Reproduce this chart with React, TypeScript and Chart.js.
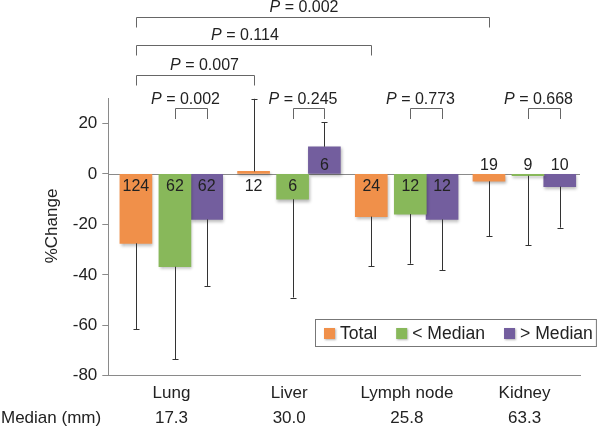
import React, { useEffect, useRef } from 'react';
import { Chart, registerables } from 'chart.js';
Chart.register(...registerables);

const categories = ['Lung', 'Liver', 'Lymph node', 'Kidney'];
const medians = ['17.3', '30.0', '25.8', '63.3'];
const seriesLabels = ['Total', '< Median', '> Median'];

const totalChange = [-27.5, 1, -16.9, -2.9];
const totalError = [-61.6, 29.8, -36.5, -24.7];
const totalN = [124, 12, 24, 19];

const belowChange = [-36.8, -10, -15.9, -0.7];
const belowError = [-73.5, -49, -35.6, -28.3];
const belowN = [62, 6, 12, 9];

const aboveChange = [-18, 10.8, -18, -5];
const aboveError = [-44.4, 20.5, -38.1, -21.3];
const aboveN = [62, 6, 12, 10];

const withinP = ['0.002', '0.245', '0.773', '0.668'];
const vsLungTarget = [1, 2, 3];
const vsLungP = ['0.007', '0.114', '0.002'];

const yTickMin = -80;
const yTickMax = 30;
const yStep = 20;

const colors = ['#F0904A', '#88B85A', '#735E9E'];
const errors = [totalError, belowError, aboveError];
const counts = [totalN, belowN, aboveN];
const changes = [totalChange, belowChange, aboveChange];

// layout (style only): x range of the category axis and per-series bar offsets, in category units
const X_MIN = -0.537;
const X_MAX = 3.471;
const SERIES_SHIFT = [-0.3025, 0.029, 0.299];
const BAR_W = 32;

const FONT = '"Liberation Sans", Arial, Helvetica, sans-serif';
const TEXT = '#222';
const AXIS = '#8a8a8a';

function drawP(ctx: CanvasRenderingContext2D, p: string, cx: number, cy: number) {
  ctx.font = `italic 16px ${FONT}`;
  const wP = ctx.measureText('P').width;
  ctx.font = `16px ${FONT}`;
  const rest = ' = ' + p;
  const wR = ctx.measureText(rest).width;
  const x0 = cx - (wP + wR) / 2;
  ctx.textBaseline = 'middle';
  ctx.textAlign = 'left';
  ctx.fillStyle = TEXT;
  ctx.font = `italic 16px ${FONT}`;
  ctx.fillText('P', x0, cy);
  ctx.font = `16px ${FONT}`;
  ctx.fillText(rest, x0 + wP, cy);
}

const overlay = {
  id: 'overlay',
  beforeDatasetsDraw(chart: any) {
    const { ctx, chartArea, scales } = chart;
    const y0 = Math.round(scales.y.getPixelForValue(0)) + 0.5;
    ctx.save();
    ctx.strokeStyle = AXIS;
    ctx.lineWidth = 1;
    ctx.beginPath();
    ctx.moveTo(chartArea.left, y0);
    ctx.lineTo(chartArea.right, y0);
    ctx.stroke();
    ctx.restore();
    ctx.save();
    ctx.shadowColor = 'rgba(0,0,0,0.28)';
    ctx.shadowBlur = 3;
    ctx.shadowOffsetX = 1;
    ctx.shadowOffsetY = 2;
  },
  afterDatasetsDraw(chart: any) {
    const { ctx, scales } = chart;
    ctx.restore();
    const yS = scales.y;
    const zero = yS.getPixelForValue(0);

    // error bars
    ctx.save();
    ctx.strokeStyle = '#333';
    ctx.lineWidth = 1;
    for (let d = 0; d < 3; d++) {
      const meta = chart.getDatasetMeta(d);
      meta.data.forEach((bar: any, i: number) => {
        const x = Math.round(bar.x) + 0.5;
        const yEnd = yS.getPixelForValue(errors[d][i]);
        ctx.beginPath();
        ctx.moveTo(x, bar.y);
        ctx.lineTo(x, yEnd);
        ctx.moveTo(x - 3, Math.round(yEnd) + 0.5);
        ctx.lineTo(x + 3, Math.round(yEnd) + 0.5);
        ctx.stroke();
      });
    }
    ctx.restore();

    // counts
    ctx.save();
    ctx.fillStyle = TEXT;
    ctx.font = `16px ${FONT}`;
    ctx.textAlign = 'center';
    ctx.textBaseline = 'middle';
    for (let d = 0; d < 3; d++) {
      const meta = chart.getDatasetMeta(d);
      meta.data.forEach((bar: any, i: number) => {
        const v = changes[d][i];
        const small = Math.abs(v) < 6;
        const below = small ? v > 0 : v < 0;
        const y = below ? zero + 12.5 : zero - 8.5;
        ctx.fillText(String(counts[d][i]), bar.x, y);
      });
    }
    ctx.restore();

    // within-category brackets
    ctx.save();
    ctx.strokeStyle = '#666';
    ctx.lineWidth = 1;
    const m1 = chart.getDatasetMeta(1);
    const m2 = chart.getDatasetMeta(2);
    for (let i = 0; i < categories.length; i++) {
      const xa = Math.round(m1.data[i].x) + 0.5;
      const xb = Math.round(m2.data[i].x) + 0.5;
      ctx.beginPath();
      ctx.moveTo(xa, 119);
      ctx.lineTo(xa, 108.5);
      ctx.lineTo(xb, 108.5);
      ctx.lineTo(xb, 119);
      ctx.stroke();
      drawP(ctx, withinP[i], (xa + xb) / 2 - 6, 99.5);
    }
    ctx.restore();

    // vs lung brackets
    ctx.save();
    ctx.strokeStyle = '#666';
    ctx.lineWidth = 1;
    const m0 = chart.getDatasetMeta(0);
    const levels = [75.5, 45.5, 17.5];
    const textShift = [9, -9, -9];
    vsLungTarget.forEach((t, k) => {
      const xa = Math.round(m0.data[0].x) + 0.5;
      const xb = Math.round(m0.data[t].x) + 0.5;
      const ly = levels[k];
      ctx.beginPath();
      ctx.moveTo(xa, ly + 10);
      ctx.lineTo(xa, ly);
      ctx.lineTo(xb, ly);
      ctx.lineTo(xb, ly + 10);
      ctx.stroke();
      drawP(ctx, vsLungP[k], (xa + xb) / 2 + textShift[k], ly - 9.5);
    });
    ctx.restore();

    // legend
    ctx.save();
    ctx.font = `17.6px ${FONT}`;
    let x = 324;
    const items: { sx: number; tx: number }[] = [];
    seriesLabels.forEach((lab) => {
      const w = ctx.measureText(lab).width;
      items.push({ sx: x, tx: x + 16 });
      x = x + 16 + w + 19;
    });
    const right = x - 19 + 3;
    ctx.fillStyle = '#fff';
    ctx.fillRect(315, 319, right - 315, 27);
    ctx.strokeStyle = '#777';
    ctx.lineWidth = 1;
    ctx.strokeRect(315.5, 319.5, right - 315, 27);
    seriesLabels.forEach((lab, k) => {
      ctx.save();
      ctx.shadowColor = 'rgba(0,0,0,0.3)';
      ctx.shadowBlur = 2;
      ctx.shadowOffsetX = 1;
      ctx.shadowOffsetY = 1;
      ctx.fillStyle = colors[k];
      ctx.fillRect(items[k].sx, 328, 11, 11);
      ctx.restore();
      ctx.fillStyle = TEXT;
      ctx.textAlign = 'left';
      ctx.textBaseline = 'middle';
      ctx.fillText(lab, items[k].tx, 334);
    });
    ctx.restore();

    // axis title and row label
    ctx.save();
    ctx.fillStyle = TEXT;
    ctx.font = `17px ${FONT}`;
    ctx.textBaseline = 'middle';
    ctx.textAlign = 'left';
    ctx.fillText('Median (mm)', 1, 418.5);
    ctx.translate(52.5, 226);
    ctx.rotate(-Math.PI / 2);
    ctx.textAlign = 'center';
    ctx.fillText('%Change', 0, 0);
    ctx.restore();
  },
};

const barAxisIds = ['xTotal', 'xBelow', 'xAbove'];

export default function App() {
  const ref = useRef<HTMLCanvasElement>(null);
  useEffect(() => {
    document.body.style.margin = '0';
    const canvas = ref.current;
    if (!canvas) return;

    const barScales: any = {};
    barAxisIds.forEach((id, k) => {
      barScales[id] = {
        type: 'linear',
        axis: 'x',
        position: 'bottom',
        display: false,
        offset: false,
        bounds: 'data',
        grid: { offset: false },
        min: X_MIN - SERIES_SHIFT[k],
        max: X_MAX - SERIES_SHIFT[k],
      };
    });

    const chart = new Chart(canvas, {
      type: 'bar',
      data: {
        datasets: changes.map((d, k) => ({
          label: seriesLabels[k],
          data: d.map((v, i) => ({ x: i, y: v })),
          xAxisID: barAxisIds[k],
          backgroundColor: colors[k],
          borderWidth: 0,
          barThickness: BAR_W,
          grouped: false,
        })),
      },
      options: {
        responsive: false,
        animation: false,
        events: [],
        layout: { padding: { top: 98.3, right: 20, left: 0, bottom: 0 } },
        plugins: { legend: { display: false }, tooltip: { enabled: false }, title: { display: false } },
        scales: {
          x: {
            type: 'linear',
            position: 'bottom',
            min: X_MIN,
            max: X_MAX,
            offset: false,
            bounds: 'data',
            grid: { drawOnChartArea: false, drawTicks: false, offset: false },
            border: { display: true, color: AXIS },
            afterBuildTicks(s: any) {
              s.ticks = categories.map((_, i) => ({ value: i }));
            },
            ticks: {
              color: TEXT,
              font: { family: FONT, size: 17, lineHeight: 25 / 17 },
              padding: 5,
              autoSkip: false,
              maxRotation: 0,
              callback: (v: any) => {
                const i = Math.round(Number(v));
                if (i < 0 || i >= categories.length) return '';
                return [categories[i], medians[i]];
              },
            },
            afterFit(s: any) {
              s.height = 52.3;
            },
          },
          ...barScales,
          y: {
            min: yTickMin,
            max: yTickMax,
            ticks: {
              stepSize: yStep,
              includeBounds: false,
              color: TEXT,
              font: { family: FONT, size: 17 },
              padding: 5,
            },
            grid: { drawOnChartArea: false, drawTicks: true, tickLength: 6, color: AXIS },
            border: { display: true, color: AXIS },
            afterFit(s: any) {
              s.width = 108.3;
            },
          },
        },
      } as any,
      plugins: [overlay],
    });
    return () => chart.destroy();
  }, []);
  return (
    <div style={{ width: 600, height: 428, background: '#fff' }}>
      <canvas ref={ref} width={600} height={428} style={{ display: 'block' }} />
    </div>
  );
}
